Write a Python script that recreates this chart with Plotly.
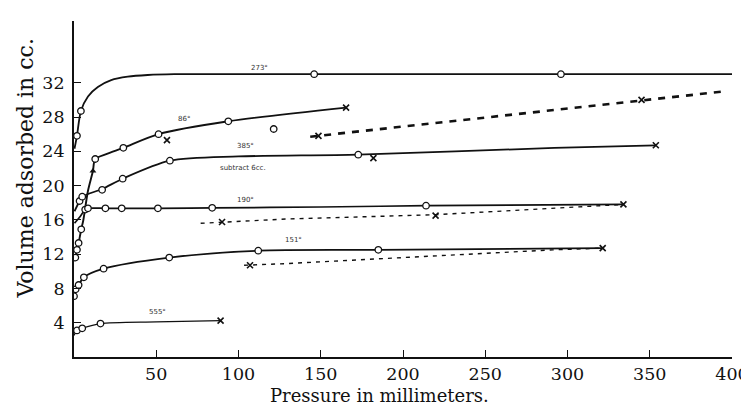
import plotly.graph_objects as go

# ---- data ----
curve_273_x = [0.3, 1.8, 4.2, 8.5, 14.5, 22.6, 32.7, 44.8, 61, 146, 296, 400]
curve_273_y = [24.3, 25.8, 28.7, 30.4, 31.5, 32.3, 32.7, 32.9, 33.0, 33.0, 33.0, 33.0]
circ_273_x = [1.8, 4.2, 146, 296]
circ_273_y = [25.8, 28.7, 33.0, 33.0]

curve_86_x = [0.8, 1.8, 2.8, 4.4, 5.6, 8.5, 11.5, 12.9, 20, 30, 51.4, 93.8, 165.4]
curve_86_y = [11.6, 12.5, 13.3, 14.9, 15.9, 19.4, 21.7, 23.1, 23.7, 24.4, 26.0, 27.5, 29.1]
circ_86_x = [0.8, 1.8, 2.8, 4.4, 12.9, 30, 51.4, 93.8]
circ_86_y = [11.6, 12.5, 13.3, 14.9, 23.1, 24.4, 26.0, 27.5]
tri_86_x = [11.5]
tri_86_y = [21.7]
cross_86_x = [56.5, 165.4]
cross_86_y = [25.3, 29.1]

curve_385_x = [0.3, 3.4, 5.0, 17.1, 29.6, 58.3, 100, 172.8, 292, 353.7]
curve_385_y = [17.0, 18.2, 18.7, 19.6, 20.8, 22.9, 23.4, 23.6, 24.4, 24.7]
circ_385_x = [3.4, 5.0, 17.1, 29.6, 58.3, 172.8]
circ_385_y = [18.2, 18.7, 19.5, 20.8, 22.9, 23.6]
cross_385_x = [182, 353.7]
cross_385_y = [23.2, 24.7]

curve_190_x = [0.3, 3.4, 6.8, 8.5, 19.1, 29, 51, 84, 150, 214, 334]
curve_190_y = [15.6, 16.3, 17.2, 17.35, 17.35, 17.35, 17.35, 17.4, 17.5, 17.65, 17.8]
circ_190_x = [6.8, 8.5, 19.1, 29, 51, 84, 214]
circ_190_y = [17.2, 17.35, 17.35, 17.35, 17.35, 17.4, 17.65]
cross_190_x = [334]
cross_190_y = [17.8]

curve_151_x = [0, 1.0, 2.8, 6.0, 18, 57.9, 112, 185, 321.4]
curve_151_y = [7.1, 7.9, 8.4, 9.3, 10.3, 11.6, 12.4, 12.5, 12.7]
circ_151_x = [0, 1.0, 2.8, 6.0, 18, 57.9, 112, 185]
circ_151_y = [7.1, 7.9, 8.4, 9.3, 10.3, 11.6, 12.4, 12.5]
cross_151_x = [321.4]
cross_151_y = [12.7]

curve_555_x = [0, 1.8, 5.0, 16.1, 50, 89.1]
curve_555_y = [2.5, 3.1, 3.35, 3.9, 4.1, 4.25]
circ_555_x = [1.8, 5.0, 16.1]
circ_555_y = [3.1, 3.35, 3.9]
cross_555_x = [89.1]
cross_555_y = [4.25]

dash_a_x = [143.6, 396]
dash_a_y = [25.7, 31.0]
cross_a_x = [148.6, 345]
cross_a_y = [25.8, 30.0]

dash_b_x = [77, 129.5, 219.8, 280.7, 334]
dash_b_y = [15.6, 16.1, 16.6, 17.2, 17.8]
cross_b_x = [90, 219.8]
cross_b_y = [15.75, 16.5]

dash_c_x = [103.4, 129.5, 200, 291, 321.4]
dash_c_y = [10.7, 10.9, 11.6, 12.5, 12.7]
cross_c_x = [107]
cross_c_y = [10.7]

stray_x = [121.4]
stray_y = [26.6]

label_text = ["273°", "86°", "385°", "subtract 6cc.", "190°", "151°", "555°"]
label_x = [113, 67, 104, 103, 104, 133.5, 50.8]
label_y = [33.7, 27.8, 24.6, 22.0, 18.3, 13.6, 5.2]

x_ticks = [50, 100, 150, 200, 250, 300, 350, 400]
y_ticks = [4, 8, 12, 16, 20, 24, 28, 32]

INK = "#111111"
fig = go.Figure()


def line(x, y, width=1.6, dash="solid", shape="spline"):
    fig.add_trace(go.Scatter(x=x, y=y, mode="lines",
                             line=dict(color=INK, width=width, dash=dash,
                                       shape=shape, smoothing=0.8),
                             hoverinfo="skip", showlegend=False))


def circles(x, y):
    fig.add_trace(go.Scatter(x=x, y=y, mode="markers",
                             marker=dict(symbol="circle", size=6.5, color="white",
                                         line=dict(color=INK, width=1.3)),
                             showlegend=False))


def crosses(x, y):
    fig.add_trace(go.Scatter(x=x, y=y, mode="markers",
                             marker=dict(symbol="x-thin", size=6,
                                         line=dict(color=INK, width=1.6)),
                             showlegend=False))


line(curve_273_x, curve_273_y, 1.8)
line(curve_86_x, curve_86_y, 1.9)
line(curve_385_x, curve_385_y, 1.8)
line(curve_190_x, curve_190_y, 1.7)
line(curve_151_x, curve_151_y, 1.8)
line(curve_555_x, curve_555_y, 1.2)
line(dash_a_x, dash_a_y, 2.6, "7px,7px", "linear")
line(dash_b_x, dash_b_y, 1.4, "4px,5px", "linear")
line(dash_c_x, dash_c_y, 1.4, "4px,5px", "linear")

for cx, cy in [(circ_273_x, circ_273_y), (circ_86_x, circ_86_y), (circ_385_x, circ_385_y),
               (circ_190_x, circ_190_y), (circ_151_x, circ_151_y), (circ_555_x, circ_555_y),
               (stray_x, stray_y)]:
    circles(cx, cy)

for cx, cy in [(cross_86_x, cross_86_y), (cross_385_x, cross_385_y), (cross_190_x, cross_190_y),
               (cross_151_x, cross_151_y), (cross_555_x, cross_555_y), (cross_a_x, cross_a_y),
               (cross_b_x, cross_b_y), (cross_c_x, cross_c_y)]:
    crosses(cx, cy)

fig.add_trace(go.Scatter(x=tri_86_x, y=tri_86_y, mode="markers",
                         marker=dict(symbol="triangle-up", size=6, color=INK),
                         showlegend=False))

for t, lx, ly in zip(label_text, label_x, label_y):
    fig.add_annotation(x=lx, y=ly, text=t, showarrow=False,
                       font=dict(family="DejaVu Sans", size=7, color="#333333"))

fig.add_annotation(xref="paper", yref="paper", x=-0.0734, y=0.56,
                   xanchor="center", yanchor="middle",
                   text="Volume adsorbed in cc.", textangle=-90, showarrow=False,
                   font=dict(family="DejaVu Serif", size=22, color=INK))
fig.add_annotation(xref="paper", yref="paper", x=0.465, y=-0.114,
                   xanchor="center", yanchor="middle",
                   text="Pressure in millimeters.", showarrow=False,
                   font=dict(family="DejaVu Serif", size=18, color=INK))

axis_common = dict(showgrid=False, zeroline=False, showline=True, linecolor=INK,
                   linewidth=1.8, ticks="inside", ticklen=7, tickcolor=INK,
                   tickwidth=1, mirror=False, automargin=False,
                   tickfont=dict(family="DejaVu Serif", size=17.5, color=INK))

fig.update_layout(
    width=749, height=405,
    margin=dict(l=66, r=25, t=13, b=56, autoexpand=False),
    paper_bgcolor="white", plot_bgcolor="white",
    xaxis=dict(range=[0, 400], tickvals=x_ticks, ticklabelstandoff=0, **axis_common),
    yaxis=dict(range=[0, 39.2], tickvals=y_ticks, ticklabelstandoff=4, **axis_common),
)

fig.write_html("out.html")
